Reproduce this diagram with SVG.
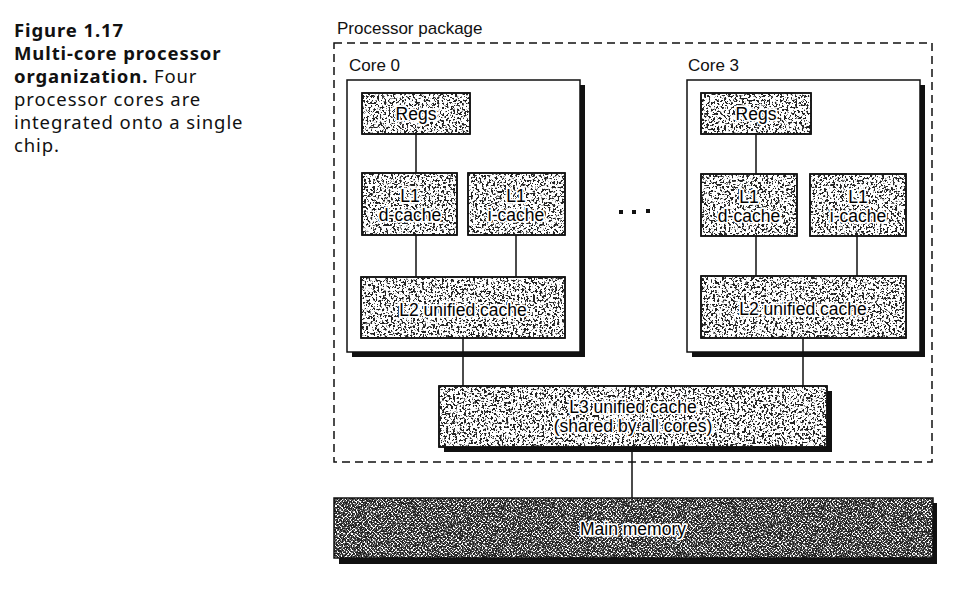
<svg xmlns="http://www.w3.org/2000/svg" width="962" height="596" viewBox="0 0 962 596">
<style>
.cap{font-family:"Noto Sans","Open Sans",sans-serif;font-size:18.5px;letter-spacing:0.9px;fill:#111}
.b{font-weight:bold}
.lbl{font-family:"Liberation Sans",Arial,sans-serif;font-size:17px;fill:#111}
.in{font-family:"Liberation Sans",Arial,sans-serif;font-size:17.5px;fill:#000;text-anchor:middle;stroke:#fff;stroke-width:3.5px;paint-order:stroke;stroke-linejoin:round}
.box{fill:#fff;stroke:#111;stroke-width:1.5}
.sh{fill:#111}
.sp{fill:#222;filter:url(#speck)}
.spd{fill:#222;filter:url(#speckd)}
.edge{fill:none;stroke:#111;stroke-width:1.5}
</style>
<defs>
<filter id="speck" x="0" y="0" width="1" height="1" color-interpolation-filters="sRGB">
<feTurbulence type="fractalNoise" baseFrequency="0.45" numOctaves="3" seed="4" result="n"/>
<feColorMatrix in="n" type="matrix" values="0 0 0 0 0  0 0 0 0 0  0 0 0 0 0  14 0 0 0 -7.4" result="a"/>
<feComposite in="SourceGraphic" in2="a" operator="in"/>
</filter>
<filter id="speckd" x="0" y="0" width="1" height="1" color-interpolation-filters="sRGB">
<feTurbulence type="fractalNoise" baseFrequency="0.8" numOctaves="2" seed="7" result="n"/>
<feColorMatrix in="n" type="matrix" values="0 0 0 0 0  0 0 0 0 0  0 0 0 0 0  14 0 0 0 -6.4" result="a"/>
<feComposite in="SourceGraphic" in2="a" operator="in"/>
</filter>
<pattern id="hatch" width="4" height="4" patternUnits="userSpaceOnUse">
<rect width="4" height="4" fill="#fff"/>
<path d="M0 4L4 0M-1 1L1 -1M3 5L5 3M0 0L4 4" stroke="#555" stroke-width="0.9"/>
</pattern>
</defs>

<g id="caption">
<text class="cap b" x="14" y="37">Figure 1.17</text>
<text class="cap b" x="14" y="60">Multi-core processor</text>
<text class="cap" x="14" y="83"><tspan class="b">organization.</tspan> Four</text>
<text class="cap" x="14" y="106">processor cores are</text>
<text class="cap" x="14" y="129">integrated onto a single</text>
<text class="cap" x="14" y="152">chip.</text>
</g>

<g id="processor-package">
<rect x="334" y="43" width="598" height="419" fill="none" stroke="#111" stroke-width="1.5" stroke-dasharray="8,5"/>
<text class="lbl" x="337" y="34">Processor package</text>
</g>

<g id="core0">
<text class="lbl" x="349" y="71">Core 0</text>
<rect class="sh" x="352" y="85" width="233" height="272"/>
<rect class="box" x="347" y="80" width="233" height="272"/>
</g>
<g id="core3">
<text class="lbl" x="688" y="71">Core 3</text>
<rect class="sh" x="692" y="85" width="233" height="272"/>
<rect class="box" x="687" y="80" width="233" height="272"/>
</g>

<g id="connectors">
<path class="edge" d="M416 134V173M416 235V277M516 235V277M463 338V386M756 134V174M756 236V276M857 236V276M803 338V386M632 447V498"/>
</g>

<g id="core0-regs">
<rect class="box" x="362" y="93" width="108" height="41"/>
<rect class="sp" x="362" y="93" width="108" height="41"/>
<rect x="362" y="93" width="108" height="41" fill="none" stroke="#111" stroke-width="1.5"/>
<text class="in" x="416" y="120">Regs</text>
</g>
<g id="core0-l1d">
<rect class="box" x="362" y="173" width="95" height="62"/>
<rect class="sp" x="362" y="173" width="95" height="62"/>
<rect x="362" y="173" width="95" height="62" fill="none" stroke="#111" stroke-width="1.5"/>
<text class="in" x="410" y="202">L1</text>
<text class="in" x="410" y="221">d-cache</text>
</g>
<g id="core0-l1i">
<rect class="box" x="468" y="173" width="97" height="62"/>
<rect class="sp" x="468" y="173" width="97" height="62"/>
<rect x="468" y="173" width="97" height="62" fill="none" stroke="#111" stroke-width="1.5"/>
<text class="in" x="516" y="202">L1</text>
<text class="in" x="516" y="221">i-cache</text>
</g>
<g id="core0-l2">
<rect class="box" x="361" y="277" width="204" height="61"/>
<rect class="sp" x="361" y="277" width="204" height="61"/>
<rect x="361" y="277" width="204" height="61" fill="none" stroke="#111" stroke-width="1.5"/>
<text class="in" x="463" y="316">L2 unified cache</text>
</g>

<g id="core3-regs">
<rect class="box" x="701" y="93" width="110" height="41"/>
<rect class="sp" x="701" y="93" width="110" height="41"/>
<rect x="701" y="93" width="110" height="41" fill="none" stroke="#111" stroke-width="1.5"/>
<text class="in" x="756" y="120">Regs</text>
</g>
<g id="core3-l1d">
<rect class="box" x="701" y="174" width="96" height="62"/>
<rect class="sp" x="701" y="174" width="96" height="62"/>
<rect x="701" y="174" width="96" height="62" fill="none" stroke="#111" stroke-width="1.5"/>
<text class="in" x="749" y="203">L1</text>
<text class="in" x="749" y="222">d-cache</text>
</g>
<g id="core3-l1i">
<rect class="box" x="810" y="174" width="96" height="62"/>
<rect class="sp" x="810" y="174" width="96" height="62"/>
<rect x="810" y="174" width="96" height="62" fill="none" stroke="#111" stroke-width="1.5"/>
<text class="in" x="858" y="203">L1</text>
<text class="in" x="858" y="222">i-cache</text>
</g>
<g id="core3-l2">
<rect class="box" x="701" y="276" width="205" height="62"/>
<rect class="sp" x="701" y="276" width="205" height="62"/>
<rect x="701" y="276" width="205" height="62" fill="none" stroke="#111" stroke-width="1.5"/>
<text class="in" x="803" y="315">L2 unified cache</text>
</g>

<g id="ellipsis">
<rect x="619" y="210" width="4" height="4" fill="#111"/>
<rect x="632" y="210" width="4" height="4" fill="#111"/>
<rect x="646" y="209" width="4" height="4" fill="#111"/>
</g>

<g id="l3">
<rect class="sh" x="444" y="391" width="388" height="61"/>
<rect class="box" x="439" y="386" width="388" height="61"/>
<rect class="sp" x="439" y="386" width="388" height="61"/>
<rect x="439" y="386" width="388" height="61" fill="none" stroke="#111" stroke-width="1.5"/>
<text class="in" x="633" y="413">L3 unified cache</text>
<text class="in" x="633" y="432">(shared by all cores)</text>
</g>

<g id="main-memory">
<rect class="sh" x="339" y="503" width="598" height="61"/>
<rect x="334" y="498" width="599" height="60" fill="url(#hatch)"/>
<rect class="spd" x="334" y="498" width="599" height="60"/>
<rect x="334" y="498" width="599" height="60" fill="none" stroke="#111" stroke-width="1.5"/>
<text class="in" x="633" y="535">Main memory</text>
</g>
</svg>
